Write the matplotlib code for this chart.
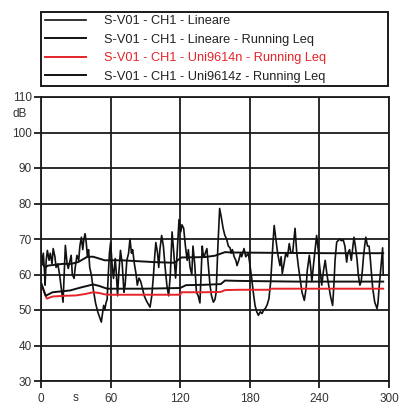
import numpy as np
import matplotlib
matplotlib.use('Agg')
import matplotlib.pyplot as plt
import matplotlib.transforms as mtransforms

plt.rcParams['font.family'] = ['Liberation Sans', 'DejaVu Sans']

# S-V01 - CH1 - Lineare (valori istantanei)
t_lin = [0, 1, 2, 3, 3.5, 4.5, 5.5, 7, 8, 9.5, 10.5, 12, 13, 14.5, 16, 17.5, 19, 20, 21, 22.5,
         23.5, 25, 26, 27, 28.5, 29.5, 31, 32.5, 33.5, 34.8, 36, 37, 38, 39, 40, 41, 42, 43.5, 45, 47,
         49, 50.5, 52, 53, 54, 55, 56, 57, 58, 59, 60, 61.5, 62.5, 64, 65, 66, 67, 68.5, 70, 71.5,
         72.5, 74, 75.5, 76.7, 78, 79, 80.5, 82, 83, 84.5, 86, 87.5, 89, 91, 94, 95.5, 97, 98, 99, 100.5,
         101.5, 102.5, 104, 105.5, 107, 108.5, 110, 111.5, 113, 114.5, 116, 117, 118, 119, 120.5, 121.5, 123, 124.5, 126, 127,
         128.5, 130, 131, 132.5, 134, 135.5, 137, 139, 140, 141, 143, 145.7, 147, 148.6, 150, 151, 152.5, 154, 155.5, 157,
         158.5, 160, 161.5, 163, 164, 165, 166.5, 168, 169, 170.5, 172, 173, 175, 176.5, 178.7, 180, 181.6, 183, 184.5, 186,
         187.4, 189, 190.5, 192, 193.5, 195, 196.5, 198, 199, 200, 201, 202.5, 204, 206, 207, 208, 209.5, 211, 212.5, 214,
         215.5, 217, 219, 220.5, 222, 223, 225, 227, 228.5, 229.5, 231.3, 232.5, 233.5, 235, 236, 237.6, 239, 240, 241, 242,
         243.5, 245, 246.5, 248, 249.5, 251.4, 252.5, 253.5, 254.9, 256, 257.7, 259, 260.5, 262, 263.5, 264.5, 266, 267.5, 269.8, 271,
         272.5, 273.5, 274.9, 276, 277, 278, 279, 280, 281.5, 282.8, 284, 284.8, 286, 287.7, 289, 289.7, 290.5, 291.4, 292.5, 293.6,
         294.5, 295]
v_lin = [66.3, 63, 66, 61, 57, 64, 66.8, 64, 66, 63, 67.3, 65, 62, 63, 60, 56, 52.2, 60, 68.2, 63,
         61.7, 64, 65.4, 60, 58.9, 62, 65.4, 64, 68, 70.5, 67, 70, 71.5, 69, 65, 67, 62, 59.7, 56, 52,
         49.4, 48, 46.6, 49, 51.3, 50, 52, 53, 60, 66, 69, 62, 58.9, 64.5, 60, 54, 60, 66.8, 63, 55,
         57, 64, 66, 70, 66, 67, 63, 60, 57, 59, 58, 56, 54, 52.5, 50.8, 54, 60, 65, 69, 66,
         62, 67, 71, 68, 62, 57, 54, 60, 72, 66, 59, 64, 70, 75.5, 72, 74, 73, 68, 64, 67,
         62, 60, 68, 63, 55, 54, 52, 68, 65, 65.4, 67.3, 57, 54, 52.2, 53, 55, 68, 78.6, 76, 73,
         71, 70, 68, 67.5, 66, 67, 65, 64, 62.5, 64, 66, 65, 67.3, 65, 66, 63, 59, 55, 51.3, 49.5,
         48.5, 49.5, 49, 50, 50.5, 51.5, 53.2, 58, 63.5, 69, 73.8, 70, 66, 62.5, 65, 60.3, 63, 66, 65, 68.7,
         66, 66.3, 73, 66, 62, 59.7, 55, 52.7, 56, 61, 65.4, 62, 58, 63, 66, 71, 67, 63, 60, 57,
         61, 64, 60, 57, 54, 51.3, 57, 64, 69.1, 69.5, 70, 69.5, 69.8, 68, 63.5, 66, 67, 64, 70.5, 68,
         64, 60, 57, 58, 61, 65, 68, 70.5, 68, 68, 64, 60.6, 56, 52.2, 51, 50.4, 52, 56, 60, 64,
         67.5, 60]

# S-V01 - CH1 - Lineare - Running Leq
t_leq = [0, 3.5, 6, 19, 26, 32, 40, 45, 55, 70, 97, 115, 121, 141, 150, 158.6, 165, 200, 250, 295]
v_leq = [63.5, 62, 62.5, 63, 63, 63.5, 65, 65, 64, 64, 63.5, 63.3, 64.8, 64.9, 65.3, 66.3, 66.2, 66.1, 66, 66]

# S-V01 - CH1 - Uni9614n - Running Leq
t_n = [0, 5, 10, 20, 30, 38, 45, 50, 55, 60, 90, 120, 121, 141, 155, 158.6, 170, 197, 198, 295]
v_n = [57.4, 53.2, 53.8, 54, 54.1, 54.5, 55, 54.8, 54.4, 54.3, 54.3, 54.3, 55, 55, 55.1, 55.6, 55.7, 55.7, 56, 56]

# S-V01 - CH1 - Uni9614z - Running Leq
t_z = [0, 4, 10, 25, 35, 40, 45, 50, 57, 65, 90, 120, 125, 141, 155, 158.6, 170, 220, 295]
v_z = [57.8, 54, 55, 55.5, 56.4, 56.8, 57.2, 56.8, 56, 56, 56, 56.2, 57, 57.1, 57.3, 58.3, 58.2, 58, 58]

labels = ['S-V01 - CH1 - Lineare',
          'S-V01 - CH1 - Lineare - Running Leq',
          'S-V01 - CH1 - Uni9614n - Running Leq',
          'S-V01 - CH1 - Uni9614z - Running Leq']
x_ticks = [0, 60, 120, 180, 240, 300]
y_ticks = [30, 40, 50, 60, 70, 80, 90, 100, 110]

fig = plt.figure(figsize=(3.99, 4.05), dpi=100)
ax = fig.add_axes([41/399, 1-381/405, 348/399, 284/405])

red = '#e52328'
l1, = ax.plot(t_lin, v_lin, color='#111111', lw=1.2)
l2, = ax.plot(t_leq, v_leq, color='#111111', lw=1.4)
l3, = ax.plot(t_n, v_n, color=red, lw=1.4)
l4, = ax.plot(t_z, v_z, color='#111111', lw=1.4)

ax.set_xlim(0, 300)
ax.set_ylim(30, 110)
ax.set_xticks(x_ticks)
ax.set_yticks(y_ticks)
ax.grid(True, color='#1a1a1a', lw=1.3)
ax.set_axisbelow(True)
for s in ax.spines.values():
    s.set_color('#1a1a1a')
    s.set_linewidth(1.3)
ax.tick_params(axis='both', length=5, width=1.3, color='#1a1a1a',
               labelsize=8.5, labelcolor='#333333')
ax.tick_params(axis='y', pad=1.5)
ax.tick_params(axis='x', pad=3.5)

tr_y = mtransforms.blended_transform_factory(ax.transAxes, ax.transData)
ax.text(-0.04, 105.2, 'dB', transform=tr_y, ha='right', va='center',
        fontsize=8.5, color='#333333')
# "s" sulla stessa riga delle etichette dell'asse x
tr_x = mtransforms.blended_transform_factory(ax.transData, ax.transAxes)
ax.text(30, -0.072, 's', transform=tr_x, ha='center', va='baseline',
        fontsize=8.5, color='#333333')

leg = fig.legend([l1, l2, l3, l4], labels, loc='center',
                 bbox_to_anchor=(41/399, 1-88/405, 347/399, 78/405),
                 mode='expand', borderaxespad=0, fontsize=9.2,
                 handlelength=3.2, handletextpad=1.4, borderpad=0.3,
                 labelspacing=0.5, fancybox=False, edgecolor='#1a1a1a',
                 framealpha=1, labelcolor='linecolor')
leg.get_frame().set_linewidth(1.4)
for txt in leg.get_texts():
    if txt.get_color() != red:
        txt.set_color('#222222')

fig.savefig('out.png', dpi=100)
